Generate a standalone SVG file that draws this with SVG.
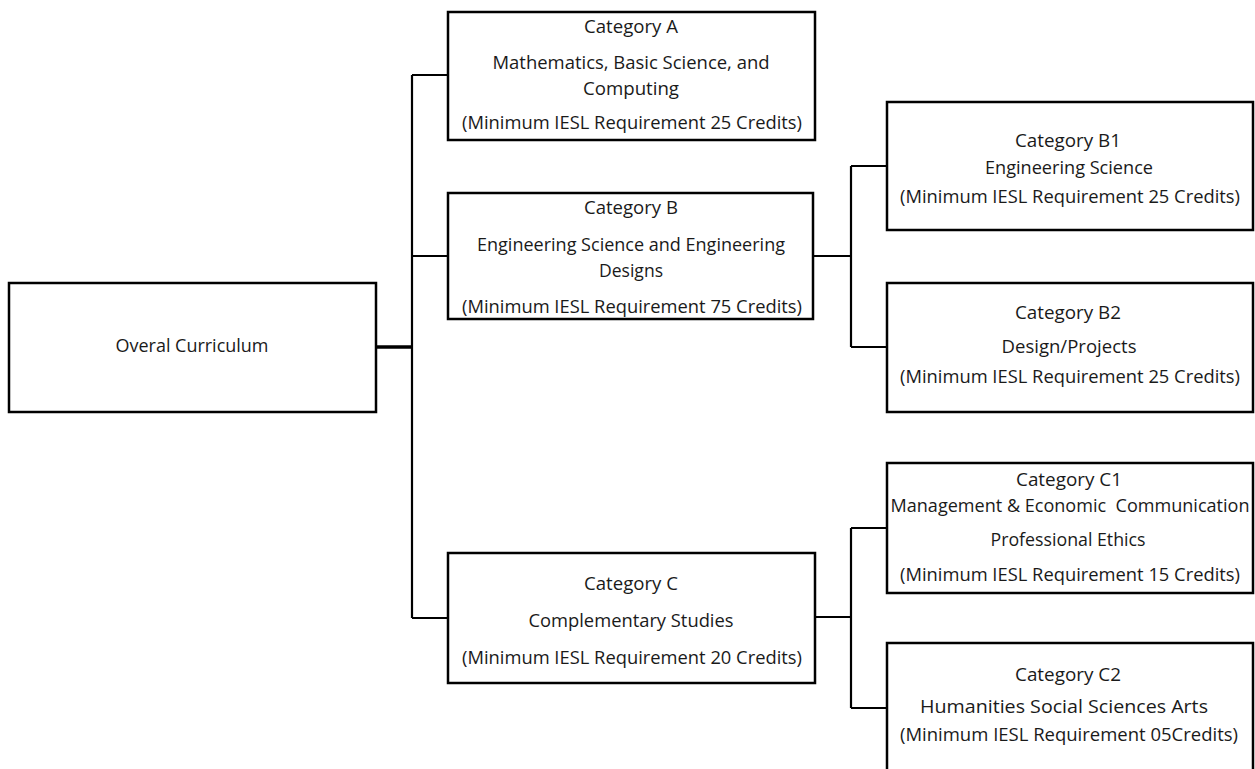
<svg xmlns="http://www.w3.org/2000/svg" width="1255" height="769" viewBox="0 0 1255 769">
<style>
.box{fill:#fff;stroke:#000;stroke-width:2.5}
.t{font-family:"Open Sans","Liberation Sans",sans-serif;font-size:18px;fill:#1a1a1a;text-anchor:middle}
.ln{fill:none;stroke:#000;stroke-width:2.2}
.thick{stroke-width:3.5}
</style>
<rect width="1255" height="769" fill="#fff"/>
<g id="connectors">
<path class="ln thick" d="M376 347 H412"/>
<path class="ln" d="M412 75 V618 M412 75 H448 M412 256 H448 M412 618 H448"/>
<path class="ln" d="M813 256 H851 M851 166 V347 M851 166 H887 M851 347 H887"/>
<path class="ln" d="M815 617 H851 M851 528 V708 M851 528 H887 M851 708 H887"/>
</g>
<g id="overall">
<rect class="box" x="9" y="283" width="367" height="129"/>
<text class="t" x="192" y="352" textLength="153" lengthAdjust="spacingAndGlyphs">Overal Curriculum</text>
</g>
<g id="catA">
<rect class="box" x="448" y="12" width="367" height="128"/>
<text class="t" x="631" y="33" textLength="94" lengthAdjust="spacingAndGlyphs">Category A</text>
<text class="t" x="631" y="69" textLength="277" lengthAdjust="spacingAndGlyphs">Mathematics, Basic Science, and</text>
<text class="t" x="631" y="95" textLength="96" lengthAdjust="spacingAndGlyphs">Computing</text>
<text class="t" x="632" y="129" textLength="340" lengthAdjust="spacingAndGlyphs">(Minimum IESL Requirement 25 Credits)</text>
</g>
<g id="catB">
<rect class="box" x="448" y="193" width="365" height="126"/>
<text class="t" x="631" y="214" textLength="94" lengthAdjust="spacingAndGlyphs">Category B</text>
<text class="t" x="631" y="251" textLength="308" lengthAdjust="spacingAndGlyphs">Engineering Science and Engineering</text>
<text class="t" x="631" y="277" textLength="64" lengthAdjust="spacingAndGlyphs">Designs</text>
<text class="t" x="632" y="313" textLength="340" lengthAdjust="spacingAndGlyphs">(Minimum IESL Requirement 75 Credits)</text>
</g>
<g id="catC">
<rect class="box" x="448" y="553" width="367" height="130"/>
<text class="t" x="631" y="590" textLength="94" lengthAdjust="spacingAndGlyphs">Category C</text>
<text class="t" x="631" y="627" textLength="205" lengthAdjust="spacingAndGlyphs">Complementary Studies</text>
<text class="t" x="632" y="664" textLength="340" lengthAdjust="spacingAndGlyphs">(Minimum IESL Requirement 20 Credits)</text>
</g>
<g id="catB1">
<rect class="box" x="887" y="102" width="366" height="128"/>
<text class="t" x="1068" y="147" textLength="106" lengthAdjust="spacingAndGlyphs">Category B1</text>
<text class="t" x="1069" y="174" textLength="168" lengthAdjust="spacingAndGlyphs">Engineering Science</text>
<text class="t" x="1070" y="203" textLength="340" lengthAdjust="spacingAndGlyphs">(Minimum IESL Requirement 25 Credits)</text>
</g>
<g id="catB2">
<rect class="box" x="887" y="283" width="366" height="129"/>
<text class="t" x="1068" y="319" textLength="106" lengthAdjust="spacingAndGlyphs">Category B2</text>
<text class="t" x="1069" y="353" textLength="135" lengthAdjust="spacingAndGlyphs">Design/Projects</text>
<text class="t" x="1070" y="383" textLength="340" lengthAdjust="spacingAndGlyphs">(Minimum IESL Requirement 25 Credits)</text>
</g>
<g id="catC1">
<rect class="box" x="887" y="463" width="366" height="130"/>
<text class="t" x="1069" y="486" textLength="106" lengthAdjust="spacingAndGlyphs">Category C1</text>
<text class="t" x="1070" y="512" textLength="359" lengthAdjust="spacingAndGlyphs" xml:space="preserve">Management &amp; Economic  Communication</text>
<text class="t" x="1068" y="546" textLength="155" lengthAdjust="spacingAndGlyphs">Professional Ethics</text>
<text class="t" x="1070" y="581" textLength="340" lengthAdjust="spacingAndGlyphs">(Minimum IESL Requirement 15 Credits)</text>
</g>
<g id="catC2">
<rect class="box" x="887" y="643" width="366" height="140"/>
<text class="t" x="1068" y="681" textLength="106" lengthAdjust="spacingAndGlyphs">Category C2</text>
<text class="t" x="1064" y="713" textLength="288" lengthAdjust="spacingAndGlyphs">Humanities Social Sciences Arts</text>
<text class="t" x="1069" y="741" textLength="338" lengthAdjust="spacingAndGlyphs">(Minimum IESL Requirement 05Credits)</text>
</g>
</svg>
